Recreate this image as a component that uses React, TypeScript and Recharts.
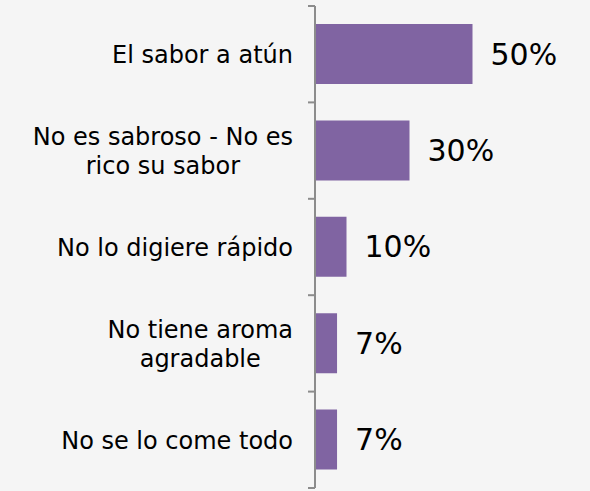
import React from 'react';
import { BarChart, Bar, XAxis, YAxis, LabelList } from 'recharts';

const categories = [
  'El sabor a atún',
  'No es sabroso - No es\nrico su sabor',
  'No lo digiere rápido',
  'No tiene aroma\nagradable',
  'No se lo come todo',
];
const values = [50, 30, 10, 7, 7];

const W = 590;
const H = 491;
const MARGIN = { top: 6, right: 86, bottom: 3, left: 0 };
const AXIS_W = 315;
const PLOT_H = H - MARGIN.top - MARGIN.bottom;
const FONT_FAMILY = '"DejaVu Sans", Verdana, sans-serif';
const LABEL_SIZE = 24;
const LINE_H = 28.5;
const LABEL_GAP = 22;
const TICK_LEN = 7;
const AXIS_COLOR = '#8c8c8c';

const data = categories.map((c, i) => ({ name: c, value: values[i] }));

let ctx: CanvasRenderingContext2D | null = null;
const measure = (t: string) => {
  if (!ctx) ctx = document.createElement('canvas').getContext('2d');
  if (!ctx) return t.length * LABEL_SIZE * 0.6;
  ctx.font = `${LABEL_SIZE}px "DejaVu Sans"`;
  return ctx.measureText(t).width;
};

const CategoryTick = (props: any) => {
  const { x, y, payload, index } = props;
  const lines = String(payload.value).split('\n');
  const maxW = Math.max(...lines.map(measure));
  const cx = x - LABEL_GAP - maxW / 2;
  const band = PLOT_H / categories.length;
  const n = lines.length;
  return (
    <g>
      <line x1={x} x2={x - TICK_LEN} y1={y - band / 2} y2={y - band / 2} stroke={AXIS_COLOR} strokeWidth={2} />
      {index === categories.length - 1 && (
        <line x1={x} x2={x - TICK_LEN} y1={y + band / 2} y2={y + band / 2} stroke={AXIS_COLOR} strokeWidth={2} />
      )}
      {lines.map((l, i) => (
        <text
          key={i}
          x={cx}
          y={y + 9 + (i - (n - 1) / 2) * LINE_H}
          textAnchor="middle"
          fontFamily={FONT_FAMILY}
          fontSize={LABEL_SIZE}
          fill="#000"
        >
          {l}
        </text>
      ))}
    </g>
  );
};

export default function App() {
  return (
    <div style={{ position: 'fixed', left: 0, top: 0, width: W, height: H, background: '#f5f5f5' }}>
      <BarChart width={W} height={H} data={data} layout="vertical" margin={MARGIN}>
        <XAxis type="number" domain={[0, 60]} hide />
        <YAxis
          type="category"
          dataKey="name"
          width={AXIS_W}
          axisLine={{ stroke: AXIS_COLOR, strokeWidth: 2 }}
          tickLine={false}
          tickSize={0}
          tickMargin={0}
          interval={0}
          tick={<CategoryTick />}
        />
        <Bar dataKey="value" fill="#8064a2" barSize={60} isAnimationActive={false}>
          <LabelList
            dataKey="value"
            position="right"
            offset={18}
            formatter={(v: any) => `${v}%`}
            style={{ fontFamily: FONT_FAMILY, fontSize: 30, fill: '#000' }}
          />
        </Bar>
      </BarChart>
    </div>
  );
}
